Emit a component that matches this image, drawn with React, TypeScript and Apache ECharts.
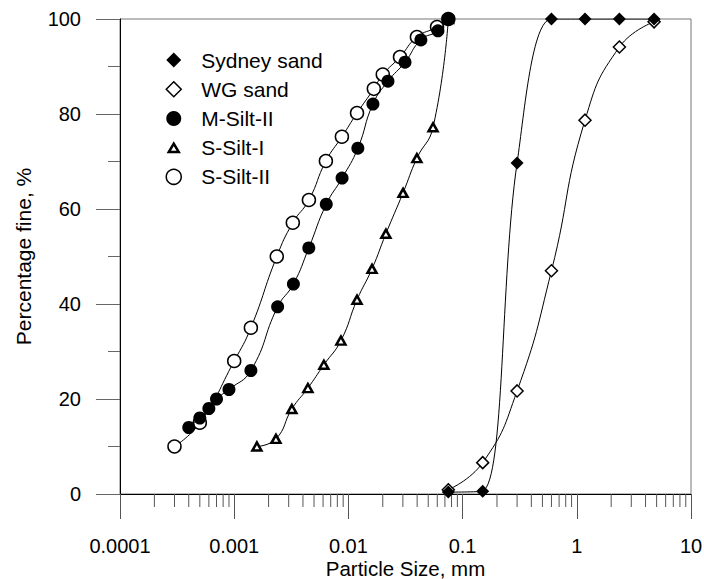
import React, { useEffect, useRef } from "react";
import * as echarts from "echarts";

const FONT = "'Liberation Sans', Arial, Helvetica, sans-serif";

const seriesNames = ["Sydney sand", "WG sand", "M-Silt-II", "S-Silt-I", "S-Silt-II"];

const sydneySize = [0.075, 0.15, 0.3, 0.6, 1.18, 2.36, 4.75];
const sydneyFine = [0.4, 0.6, 69.7, 100, 100, 100, 100];

const wgSize = [0.075, 0.15, 0.3, 0.6, 1.18, 2.36, 4.75];
const wgFine = [0.9, 6.6, 21.7, 47.0, 78.7, 94.1, 99.4];

const mSilt2Size = [0.0004, 0.0005, 0.0006, 0.0007, 0.0009, 0.0014, 0.0024, 0.0033, 0.0045, 0.0064, 0.0088, 0.0121, 0.0164, 0.0222, 0.0313, 0.0431, 0.0608, 0.075];
const mSilt2Fine = [14, 16, 18, 20, 22, 26, 39.4, 44.2, 51.8, 61.0, 66.5, 72.8, 82.1, 86.9, 90.9, 95.6, 97.5, 100];

const sSilt1Size = [0.00158, 0.00232, 0.0032, 0.00442, 0.0061, 0.0086, 0.0119, 0.0161, 0.0213, 0.0301, 0.0398, 0.0551, 0.075];
const sSilt1Fine = [10, 11.6, 17.9, 22.3, 27.2, 32.3, 40.9, 47.4, 54.8, 63.4, 70.7, 77.2, 100];

const sSilt2Size = [0.0003, 0.0005, 0.001, 0.0014, 0.00236, 0.00326, 0.00451, 0.00635, 0.00877, 0.0119, 0.0167, 0.0200, 0.0283, 0.0398, 0.0597, 0.075];
const sSilt2Fine = [10, 15, 28, 35, 50, 57.1, 61.9, 70.1, 75.2, 80.2, 85.3, 88.3, 92.0, 96.2, 98.3, 100];

const xTickLabels = ["0.0001", "0.001", "0.01", "0.1", "1", "10"];
const yTicks = [0, 20, 40, 60, 80, 100];

// minor tick positions of the log axis (2..9 times each decade)
const decadeStarts = [0.0001, 0.001, 0.01, 0.1, 1];
const minorMultipliers = [2, 3, 4, 5, 6, 7, 8, 9];

const pairs = (xs: number[], ys: number[]) => xs.map((x, i) => [x, ys[i]]);

const TRIANGLE_ICON = "path://M0,0M15,15M7.5,3.5L12.5,12L2.5,12Z";

export default function App() {
  const ref = useRef<HTMLDivElement>(null);

  useEffect(() => {
    if (!ref.current) return;
    const chart = echarts.init(ref.current, null, { renderer: "svg" });

    const minorTicks: number[][] = [];
    decadeStarts.forEach((d) => minorMultipliers.forEach((m) => minorTicks.push([d * m, 0])));

    const lineBase = {
      type: "line",
      smooth: 0.5,
      lineStyle: { color: "#000", width: 1 },
      emphasis: { disabled: true },
      symbolKeepAspect: true,
    };

    const option: any = {
      animation: false,
      grid: {
        left: 120,
        right: 13,
        top: 19,
        bottom: 85,
        show: true,
        borderColor: "#777",
        borderWidth: 1,
        backgroundColor: "transparent",
        containLabel: false,
        outerBoundsMode: "none",
      },
      legend: {
        orient: "vertical",
        left: 165,
        top: 49,
        padding: 0,
        itemWidth: 15,
        itemHeight: 15,
        itemGap: 7.2,
        selectedMode: false,
        textStyle: { fontSize: 21, fontFamily: FONT, color: "#000", padding: [0, 0, 0, 15], lineHeight: 22 },
        data: [
          { name: seriesNames[0], icon: "diamond", itemStyle: { color: "#000", borderWidth: 0 } },
          { name: seriesNames[1], icon: "diamond", itemStyle: { color: "#fff", borderColor: "#000", borderWidth: 1.5 } },
          { name: seriesNames[2], icon: "circle", itemStyle: { color: "#000", borderWidth: 0 } },
          { name: seriesNames[3], icon: TRIANGLE_ICON, itemStyle: { color: "#fff", borderColor: "#000", borderWidth: 2.5 } },
          { name: seriesNames[4], icon: "circle", itemStyle: { color: "#fff", borderColor: "#000", borderWidth: 1.5 } },
        ],
      },
      xAxis: {
        type: "log",
        logBase: 10,
        min: 0.0001,
        max: 10,
        name: "Particle Size, mm",
        nameLocation: "middle",
        nameGap: 66,
        nameMoveOverlap: false,
        nameTextStyle: { fontSize: 20.5, fontFamily: FONT, color: "#000", lineHeight: 16 },
        axisLine: { show: true, onZero: false, lineStyle: { color: "#000", width: 1 } },
        axisTick: { show: true, length: 25, lineStyle: { color: "#555", width: 1 } },
        axisLabel: {
          margin: 44,
          fontSize: 20,
          lineHeight: 16,
          fontFamily: FONT,
          color: "#000",
          formatter: (_v: number, i: number) => xTickLabels[i] ?? "",
        },
        splitLine: { show: false },
      },
      yAxis: {
        type: "value",
        min: yTicks[0],
        max: yTicks[yTicks.length - 1],
        interval: 20,
        name: "Percentage fine, %",
        nameLocation: "middle",
        nameGap: 86,
        nameMoveOverlap: false,
        nameTextStyle: { fontSize: 21, fontFamily: FONT, color: "#000" },
        axisLine: { show: true, onZero: false, lineStyle: { color: "#000", width: 1 } },
        axisTick: { show: true, length: 24, lineStyle: { color: "#666", width: 1 } },
        minorTick: { show: true, splitNumber: 2, length: 12, lineStyle: { color: "#666", width: 1 } },
        axisLabel: { margin: 39, fontSize: 20, fontFamily: FONT, color: "#000" },
        splitLine: { show: false },
      },
      series: [
        {
          type: "custom",
          name: "minorTicks",
          silent: true,
          clip: false,
          data: minorTicks,
          z: 1,
          renderItem: (_p: any, api: any) => {
            const pt = api.coord([api.value(0), 0]);
            return {
              type: "line",
              shape: { x1: pt[0], y1: pt[1], x2: pt[0], y2: pt[1] + 13 },
              style: { stroke: "#555", lineWidth: 1 },
            };
          },
        },
        {
          ...lineBase,
          name: seriesNames[4],
          z: 2,
          data: pairs(sSilt2Size, sSilt2Fine),
          symbol: "circle",
          symbolSize: 13,
          itemStyle: { color: "#fff", borderColor: "#000", borderWidth: 1.5 },
        },
        {
          ...lineBase,
          name: seriesNames[3],
          z: 2,
          data: pairs(sSilt1Size, sSilt1Fine),
          symbol: "triangle",
          symbolSize: [9, 8],
          itemStyle: { color: "#fff", borderColor: "#000", borderWidth: 2.5 },
        },
        {
          ...lineBase,
          name: seriesNames[2],
          z: 3,
          data: pairs(mSilt2Size, mSilt2Fine),
          symbol: "circle",
          symbolSize: 13,
          itemStyle: { color: "#000", borderWidth: 0 },
        },
        {
          ...lineBase,
          name: seriesNames[1],
          z: 2,
          data: pairs(wgSize, wgFine),
          symbol: "diamond",
          symbolSize: 12,
          itemStyle: { color: "#fff", borderColor: "#000", borderWidth: 1.5 },
        },
        {
          ...lineBase,
          name: seriesNames[0],
          z: 3,
          smooth: 0.35,
          data: pairs(sydneySize, sydneyFine),
          symbol: "diamond",
          symbolSize: 13,
          itemStyle: { color: "#000", borderWidth: 0 },
        },
      ],
    };

    chart.setOption(option);
    return () => chart.dispose();
  }, []);

  return (
    <div
      ref={ref}
      style={{ position: "absolute", left: 0, top: 0, width: 704, height: 579, background: "#fff" }}
    />
  );
}
